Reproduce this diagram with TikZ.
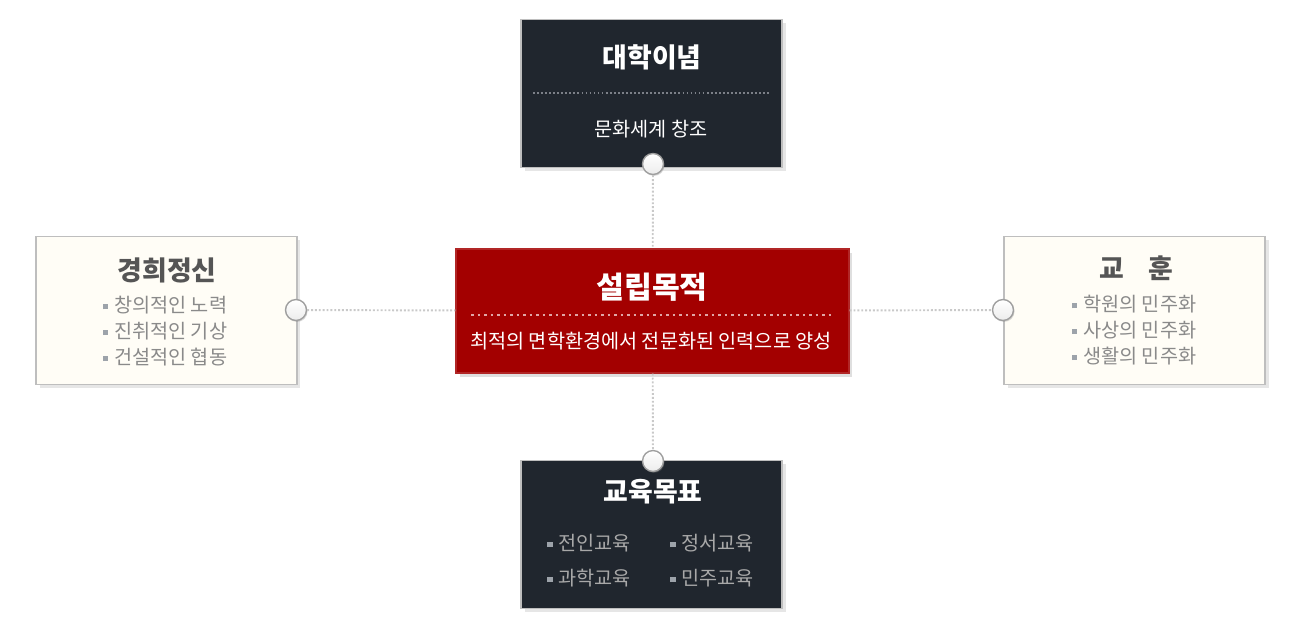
\documentclass[tikz,border=0pt]{standalone}
\usepackage{fontspec}
\setmainfont{Noto Sans CJK KR}
\usetikzlibrary{shadows}
\definecolor{boxdark}{HTML}{20262E}
\definecolor{boxred}{HTML}{A30000}
\definecolor{rimgray}{HTML}{BEBEBE}
\definecolor{creamfill}{HTML}{FFF3C6}
\definecolor{creamedge}{HTML}{FFFDF6}
\definecolor{titlegray}{HTML}{555555}
\definecolor{itemgray}{HTML}{8A8A8A}
\definecolor{darkitem}{HTML}{A8A8A8}
\definecolor{linkgray}{HTML}{C9C9C9}
\definecolor{bulletgray}{HTML}{9DA3AA}
\definecolor{ruledot}{HTML}{7C8088}
\definecolor{reddot}{HTML}{E0A6A6}
\newcommand{\sqbullet}{\textcolor{bulletgray}{\rule[0.3ex]{0.28em}{0.28em}}\hspace{0.3em}}
\tikzset{
  panel/.style={line width=1.1pt, draw=rimgray, minimum width=5.22cm, minimum height=2.96cm,
    drop shadow={shadow xshift=2pt, shadow yshift=-2pt, opacity=0.2}},
  darkbox/.style={panel, fill=boxdark},
  creambox/.style={panel, top color=creamedge, middle color=creamfill, bottom color=creamedge},
  redbox/.style={line width=0.8pt, draw=boxred!85!white, fill=boxred, minimum width=7.86cm, minimum height=2.48cm,
    drop shadow={shadow xshift=2pt, shadow yshift=-2pt, opacity=0.25}},
  knob/.style={circle, draw=gray!75, line width=0.8pt, minimum size=0.42cm, inner sep=0pt,
    top color=white, bottom color=gray!15, drop shadow={shadow xshift=0.6pt, shadow yshift=-0.8pt, opacity=0.3}},
  link/.style={draw=linkgray, line width=1.1pt, dash pattern=on 1.1pt off 1.1pt},
  bigtitle/.style={font=\bfseries\fontsize{15.3}{18}\selectfont},
  bodytext/.style={font=\fontsize{11.2}{14.7}\selectfont}
}
\begin{document}
\begin{tikzpicture}[x=0.02cm,y=-0.02cm]
\useasboundingbox (0,0) rectangle (1300,633);
% boxes
\node[darkbox] (ideal) at (651.5,93.5) {};
\node[creambox] (spirit) at (166.5,310.5) {};
\node[creambox] (motto) at (1134.5,310.5) {};
\node[darkbox] (goal) at (651.5,534.5) {};
\node[redbox] (purpose) at (652.5,311) {};
% inner rules
\draw[ruledot, line width=0.9pt, dash pattern=on 1pt off 1.3pt] (533,93) -- (770,93);
\draw[reddot, line width=1.6pt, dash pattern=on 1.6pt off 2.1pt] (471,315) -- (833,315);
% texts
\node[bigtitle, text=white] (idealtitle) at (652,57) {대학이념};
\node[bodytext, text=white] (idealtext) at (651,129) {문화세계 창조};
\node[bigtitle, text=white, font=\bfseries\fontsize{17.2}{20}\selectfont] (purposetitle) at (652,287) {설립목적};
\node[bodytext, text=white] (purposetext) at (651,341) {최적의 면학환경에서 전문화된 인력으로 양성};
\node[bigtitle, text=titlegray] (spirittitle) at (167,270) {경희정신};
\node[bodytext, text=itemgray, align=left] (spiritlist) at (165,331)
  {\sqbullet 창의적인 노력\\ \sqbullet 진취적인 기상\\ \sqbullet 건설적인 협동};
\node[bigtitle, text=titlegray] (mottotitle) at (1136,268) {교\hspace{0.9em}훈};
\node[bodytext, text=itemgray, align=left] (mottolist) at (1134,330)
  {\sqbullet 학원의 민주화\\ \sqbullet 사상의 민주화\\ \sqbullet 생활의 민주화};
\node[bigtitle, text=white] (goaltitle) at (653,492) {교육목표};
\node[bodytext, text=darkitem, anchor=west] (goal1) at (541,543) {\sqbullet 전인교육};
\node[bodytext, text=darkitem, anchor=west] (goal2) at (664,543) {\sqbullet 정서교육};
\node[bodytext, text=darkitem, anchor=west] (goal3) at (541,578) {\sqbullet 과학교육};
\node[bodytext, text=darkitem, anchor=west] (goal4) at (664,578) {\sqbullet 민주교육};
% knobs
\node[knob] (topknob) at (653,164) {};
\node[knob] (leftknob) at (296,310) {};
\node[knob] (rightknob) at (1003,310) {};
\node[knob] (bottomknob) at (653,461) {};
% connectors
\draw[link] (topknob) -- (purpose);
\draw[link] (purpose) -- (bottomknob);
\draw[link] (leftknob) -- (purpose);
\draw[link] (purpose) -- (rightknob);
\end{tikzpicture}
\end{document}
